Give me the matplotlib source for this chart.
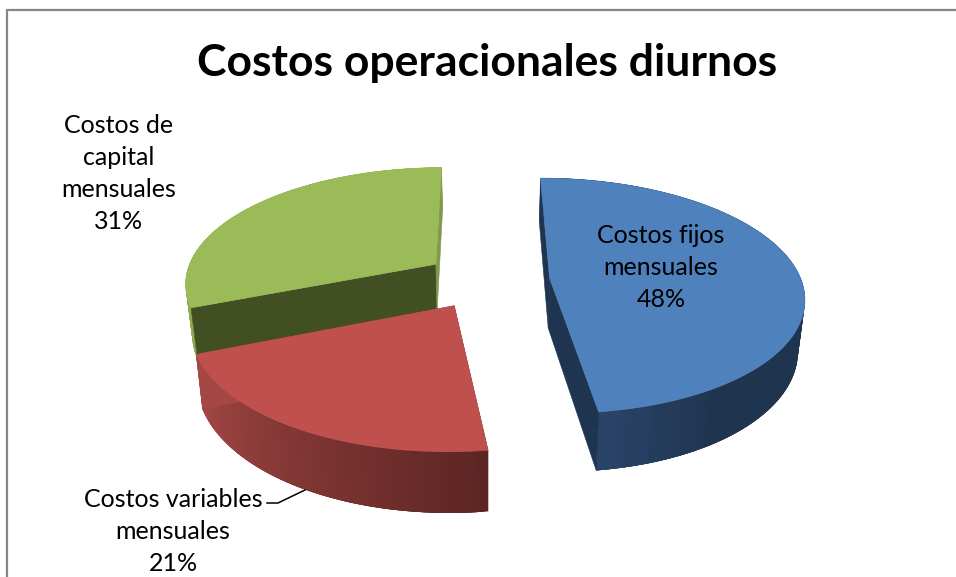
import numpy as np
import matplotlib
matplotlib.use("Agg")
import matplotlib.pyplot as plt
from matplotlib.colors import to_rgb
from matplotlib.patches import Polygon

# Chart content
title = "Costos operacionales diurnos"
categories = ["Costos fijos\nmensuales", "Costos variables\nmensuales", "Costos de\ncapital\nmensuales"]
values = [48, 21, 31]

# Face colours per slice
top_colors = ["#4f81bd", "#c0504d", "#9bbb59"]
cut_start_colors = ["#1f344f", "#5c2523", "#414f23"]
cut_end_colors = ["#1f344f", "#a54845", "#7f9a48"]
# Outer rim shading: (fraction along the slice, colour)
rim_stops = [
    [(0.0, "#1f344f"), (0.85, "#1f344f"), (1.0, "#2a4468")],
    [(0.0, "#5c2523"), (1.0, "#a54845")],
    [(0.0, "#8fa952"), (1.0, "#8fa952")],
]
label_pos = [(661, 267.5), (173, 531.5), (119, 173.5)]
label_color = "black"

# Projection of the tilted, exploded pie onto the canvas
CX, CY = 487, 280
RX, RY = 251.5, 115.5
PERSP = 0.15
THICK = 50
EXPLODE = 0.25
TAPER = 0.022
FIRST_ANGLE = np.deg2rad(-0.25)


def project(X, Y, z=0.0):
    s = 1.0 / (1.0 + PERSP * Y)
    x = RX * X * s
    y = -RY * Y * s + z * s
    x = x * (1 - TAPER * (z / THICK))
    return CX + x, CY + y


def rim_color(stops, f):
    fr = [p for p, _ in stops]
    rgb = np.array([to_rgb(c) for _, c in stops])
    return tuple(np.interp(f, fr, rgb[:, i]) for i in range(3))


fig = plt.figure(figsize=(9.56, 5.77), dpi=100, facecolor="white")
ax = fig.add_axes([0, 0, 1, 1])
ax.set_xlim(0, 956)
ax.set_ylim(577, 0)
ax.axis("off")

# Chart frame: top and left edges only are in view
ax.plot([7.5, 7.5, 956], [577, 9.5, 9.5], color="#868686", lw=1.6, solid_capstyle="butt", zorder=1)

total = sum(values)
edges = FIRST_ANGLE + np.concatenate([[0], np.cumsum(values)]) / total * 2 * np.pi
# Far slices first so nearer ones cover them
draw_order = [2, 1, 0]

for i in draw_order:
    a0, a1 = edges[i], edges[i + 1]
    mid = (a0 + a1) / 2
    ox, oy = EXPLODE * np.sin(mid), EXPLODE * np.cos(mid)
    th = np.linspace(a0, a1, 160)
    Xs, Ys = ox + np.sin(th), oy + np.cos(th)

    ax0, ay0 = project(ox, oy)
    ax1, ay1 = project(ox, oy, THICK)

    # Curved outer rim, shaded in overlapping strips so no seams show
    tx, ty = project(Xs, Ys)
    bx, by = project(Xs, Ys, THICK)
    n = len(th)
    for j in range(n - 1):
        k = min(j + 4, n - 1)
        c = rim_color(rim_stops[i], j / (n - 2))
        poly = list(zip(tx[j:k + 1], ty[j:k + 1])) + list(zip(bx[j:k + 1], by[j:k + 1]))[::-1]
        ax.add_patch(Polygon(poly, closed=True, fc=c, ec="none", zorder=2))

    # Flat cut faces running from the apex to the rim
    for ang_idx, col in ((0, cut_start_colors[i]), (-1, cut_end_colors[i])):
        rx0, ry0 = project(Xs[ang_idx], Ys[ang_idx])
        rx1, ry1 = project(Xs[ang_idx], Ys[ang_idx], THICK)
        ax.add_patch(Polygon([(ax0, ay0), (rx0, ry0), (rx1, ry1), (ax1, ay1)],
                             closed=True, fc=col, ec=col, lw=0.4, zorder=2))

    # Top face
    pts = [(ax0, ay0)] + list(zip(tx, ty))
    ax.add_patch(Polygon(pts, closed=True, fc=top_colors[i], ec=top_colors[i], lw=0.4, zorder=2))

ax.text(487, 63, title, ha="center", va="center", fontsize=32, fontweight="bold",
        family="Lato", color="black", zorder=5)

for name, val, (lx, ly) in zip(categories, values, label_pos):
    ax.text(lx, ly, f"{name}\n{val}%", ha="center", va="center", fontsize=18, family="Lato",
            color=label_color, linespacing=1.48, zorder=5)

# Leader from the variable-cost label to its slice
ax.plot([267, 278, 305], [503, 503, 490], color="black", lw=1.1, zorder=4)

fig.savefig("out.png", dpi=100, facecolor="white")
